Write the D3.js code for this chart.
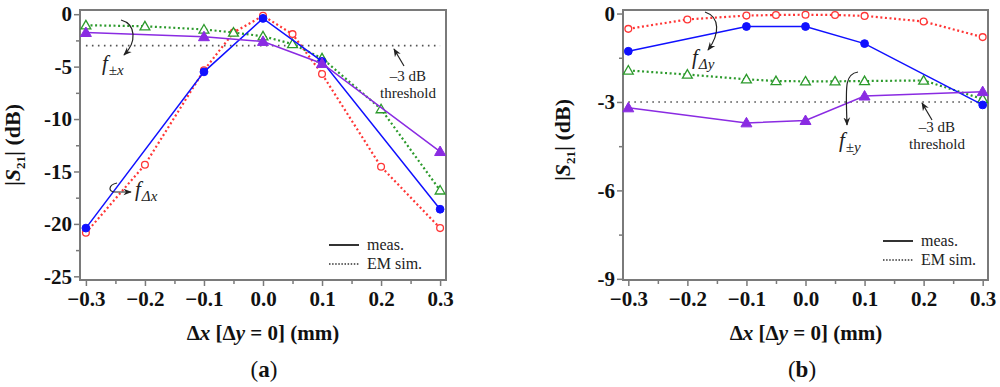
<!DOCTYPE html>
<html><head><meta charset="utf-8">
<script src="https://cdn.jsdelivr.net/npm/d3@7"></script>
<style>
body{margin:0;background:#fff;}
svg text{font-family:"Liberation Serif","Times New Roman","DejaVu Serif",serif !important;}
</style></head>
<body><svg id="c" width="1000" height="387"></svg>
<script>
// ---------- DATA ----------
// Panel (a): Δx sweep, Δy = 0
const aSimDxX = [-0.3,-0.2,-0.1,-0.05,0,0.05,0.1,0.2,0.3];
const aSimDxY = [-20.85,-14.35,-5.35,-1.75,-0.15,-1.9,-5.7,-14.55,-20.4];
const aMeasDxX = [-0.3,-0.1,0,0.1,0.3];
const aMeasDxY = [-20.4,-5.5,-0.4,-4.5,-18.6];
const aSimPmX = [-0.3,-0.2,-0.1,-0.05,0,0.05,0.1,0.2,0.3];
const aSimPmY = [-1.05,-1.15,-1.45,-1.75,-2.1,-2.85,-4.2,-9.05,-16.8];
const aMeasPmX = [-0.3,-0.1,0,0.1,0.3];
const aMeasPmY = [-1.75,-2.15,-2.6,-4.7,-13.1];
// Panel (b)
const bSimDyX = [-0.3,-0.2,-0.1,-0.05,0,0.05,0.1,0.2,0.3];
const bSimDyY = [-0.52,-0.2,-0.07,-0.05,-0.04,-0.05,-0.08,-0.27,-0.8];
const bMeasDyX = [-0.3,-0.1,0,0.1,0.3];
const bMeasDyY = [-1.28,-0.44,-0.44,-1.02,-3.1];
const bSimPmX = [-0.3,-0.2,-0.1,-0.05,0,0.05,0.1,0.2,0.3];
const bSimPmY = [-1.93,-2.07,-2.23,-2.29,-2.3,-2.3,-2.29,-2.27,-2.9];
const bMeasPmX = [-0.3,-0.1,0,0.1,0.3];
const bMeasPmY = [-3.2,-3.71,-3.63,-2.8,-2.65];
const threshold = -3;
const xTicks = [-0.3,-0.2,-0.1,0.0,0.1,0.2,0.3];
const xMinor = [-0.25,-0.15,-0.05,0.05,0.15,0.25];
const aYTicks = [0,-5,-10,-15,-20,-25];
const aYMinor = [-2.5,-7.5,-12.5,-17.5,-22.5];
const bYTicks = [0,-3,-6,-9];
const bYMinor = [-1.5,-4.5,-7.5];
const legendLabels = ["meas.","EM sim."];

// ---------- DRAW ----------
const FONT = "'Liberation Serif','Times New Roman','DejaVu Serif',serif";
const svg = d3.select("#c").attr("font-family",FONT);
const defs = svg.append("defs");
defs.append("marker").attr("id","ah").attr("viewBox","0 0 10 10").attr("refX",9).attr("refY",5)
  .attr("markerWidth",7).attr("markerHeight",7).attr("orient","auto-start-reverse")
  .append("path").attr("d","M0,1 L10,5 L0,9 L3,5 Z").attr("fill","#222");

const RED="#ff3636", BLUE="#1010ff", GREEN="#2c9a2c", PURPLE="#8a2be2";
const FRAME="#7a7a7a";

function zip(xs,ys){return xs.map((x,i)=>[x,ys[i]]);}

function panel(o){
  const g = svg.append("g").attr("font-family",FONT);
  const x = d3.scaleLinear().domain(o.xd).range(o.xr);
  const y = d3.scaleLinear().domain(o.yd).range(o.yr);
  const [x0,x1]=o.xr, [y0,y1]=o.yr;
  const xa = g.append("g").attr("transform",`translate(0,${y0})`)
    .call(d3.axisBottom(x).tickValues(xTicks).tickSize(6).tickPadding(4).tickFormat(d3.format(".1f")));
  g.append("g").attr("transform",`translate(0,${y0})`)
    .call(d3.axisBottom(x).tickValues(xMinor).tickSize(4).tickFormat(""));
  const ya = g.append("g").attr("transform",`translate(${x0},0)`)
    .call(d3.axisLeft(y).tickValues(o.yt).tickSize(6).tickPadding(2).tickFormat(d3.format("d")));
  g.append("g").attr("transform",`translate(${x0},0)`)
    .call(d3.axisLeft(y).tickValues(o.ym).tickSize(4).tickFormat(""));
  g.selectAll("g").attr("font-family",FONT);
  g.selectAll(".domain").remove();
  g.selectAll(".tick line").attr("stroke",FRAME).attr("stroke-width",1.5);
  g.selectAll(".tick text").attr("font-family",FONT).attr("font-weight","bold")
    .attr("font-size",21).attr("fill","#111");
  ya.selectAll(".tick text").text(d=>d===0?"0":String(d).replace("−","-"));
  xa.selectAll(".tick text").attr("dy","0.75em");
  g.append("rect").attr("x",x0).attr("y",y1).attr("width",x1-x0).attr("height",y0-y1)
    .attr("fill","none").attr("stroke",FRAME).attr("stroke-width",2);
  g.append("line").attr("x1",x(-0.3)).attr("x2",x(0.3)).attr("y1",y(threshold)).attr("y2",y(threshold))
    .attr("stroke","#555").attr("stroke-width",1.6).attr("stroke-dasharray","1.6,4.4");
  const line = d3.line().x(d=>x(d[0])).y(d=>y(d[1]));
  function series(xs,ys,color,dotted,shape,filled){
    const pts = zip(xs,ys);
    g.append("path").datum(pts).attr("d",line).attr("fill","none").attr("stroke",color)
      .attr("stroke-width",dotted?2.2:1.5).attr("stroke-dasharray",dotted?"2,2.6":null);
    const sym = d3.symbol().type(shape==="c"?d3.symbolCircle:d3.symbolTriangle).size(shape==="c"?(filled?48:36):(filled?52:42));
    g.append("g").selectAll("path").data(pts).join("path")
      .attr("d",sym).attr("transform",d=>`translate(${x(d[0])},${y(d[1])+(shape==="t"?0.8:0)})`)
      .attr("fill",filled?color:"#fff").attr("stroke",color).attr("stroke-width",filled?1:1.3);
  }
  series(o.simDxX,o.simDxY,RED,true,"c",false);
  series(o.simPmX,o.simPmY,GREEN,true,"t",false);
  series(o.measDxX,o.measDxY,BLUE,false,"c",true);
  series(o.measPmX,o.measPmY,PURPLE,false,"t",true);
  const L=o.leg;
  g.append("line").attr("x1",L.x).attr("x2",L.x+30).attr("y1",L.y).attr("y2",L.y).attr("stroke","#333").attr("stroke-width",2);
  g.append("line").attr("x1",L.x).attr("x2",L.x+30).attr("y1",L.y+19).attr("y2",L.y+19).attr("stroke","#333").attr("stroke-width",1.5).attr("stroke-dasharray","1.5,1.6");
  g.append("text").attr("x",L.x+38).attr("y",L.y+5).attr("font-size",16).attr("fill","#222").text(legendLabels[0]);
  g.append("text").attr("x",L.x+38).attr("y",L.y+24).attr("font-size",16).attr("fill","#222").text(legendLabels[1]);
  const T=o.thr;
  g.append("text").attr("x",T.x).attr("y",T.y).attr("text-anchor","middle").attr("font-size",15).attr("fill","#222").text("–3 dB");
  g.append("text").attr("x",T.x).attr("y",T.y+17).attr("text-anchor","middle").attr("font-size",15).attr("fill","#222").text("threshold");
  g.append("path").attr("d",T.arrow).attr("fill","none").attr("stroke","#222").attr("stroke-width",1.2).attr("marker-end","url(#ah)");
  o.flabels.forEach(f=>{
    const t=g.append("text").attr("x",f.x).attr("y",f.y).attr("font-size",21).attr("font-style","italic").attr("fill","#222");
    t.append("tspan").text("f");
    t.append("tspan").attr("dy",5).attr("dx",1).attr("font-size",15).text(f.sub);
    g.append("path").attr("d",f.arrow).attr("fill","none").attr("stroke","#222").attr("stroke-width",1.2).attr("marker-end","url(#ah)");
  });
  const xt = g.append("text").attr("x",o.xtx).attr("y",340).attr("text-anchor","middle")
    .attr("font-size",21).attr("font-weight","bold").attr("fill","#111");
  xt.append("tspan").text("Δ");
  xt.append("tspan").attr("font-style","italic").text("x");
  xt.append("tspan").text(" [Δ");
  xt.append("tspan").attr("font-style","italic").text("y");
  xt.append("tspan").text(" = 0] (mm)");
  const yt = g.append("text").attr("transform",`translate(${o.ytx},${o.yty}) rotate(-90)`).attr("text-anchor","middle")
    .attr("font-size",22).attr("font-weight","bold").attr("fill","#111");
  yt.append("tspan").text("|");
  yt.append("tspan").attr("font-style","italic").text("S");
  yt.append("tspan").attr("font-size",13).attr("dy",5).text("21");
  yt.append("tspan").attr("dy",-5).text("| (dB)");
  const pl = g.append("text").attr("x",o.plx).attr("y",377).attr("text-anchor","middle")
    .attr("font-size",23).attr("font-weight","bold").attr("fill","#111");
  pl.append("tspan").attr("font-weight","normal").text("(");
  pl.append("tspan").text(o.pl);
  pl.append("tspan").attr("font-weight","normal").text(")");
}

panel({
  xd:[-0.31,0.31], xr:[80,446], yd:[-25.35,0.4], yr:[280,10],
  yt:aYTicks, ym:aYMinor,
  simDxX:aSimDxX, simDxY:aSimDxY, measDxX:aMeasDxX, measDxY:aMeasDxY,
  simPmX:aSimPmX, simPmY:aSimPmY, measPmX:aMeasPmX, measPmY:aMeasPmY,
  leg:{x:329,y:245},
  thr:{x:408,y:81,arrow:"M404,66 L394,49"},
  flabels:[
    {x:102,y:70,sub:"±x",arrow:"M121,20 C136,24 137,42 124,55"},
    {x:135,y:196,sub:"Δx",arrow:"M117,183 C108,185 108,192 115,192 L131,192"}
  ],
  xtx:263, ytx:20, yty:145, plx:264, pl:"a"
});
panel({
  xd:[-0.309,0.309], xr:[623,988], yd:[-9.04,0.12], yr:[280,10],
  yt:bYTicks, ym:bYMinor,
  simDxX:bSimDyX, simDxY:bSimDyY, measDxX:bMeasDyX, measDxY:bMeasDyY,
  simPmX:bSimPmX, simPmY:bSimPmY, measPmX:bMeasPmX, measPmY:bMeasPmY,
  leg:{x:883,y:241},
  thr:{x:937,y:132,arrow:"M932,120 L922,103"},
  flabels:[
    {x:692,y:64,sub:"Δy",arrow:"M705,12 C720,17 720,34 708,50"},
    {x:839,y:147,sub:"±y",arrow:"M858,72 C844,74 846,88 847,125"}
  ],
  xtx:806, ytx:570, yty:140, plx:802, pl:"b"
});
</script></body></html>
